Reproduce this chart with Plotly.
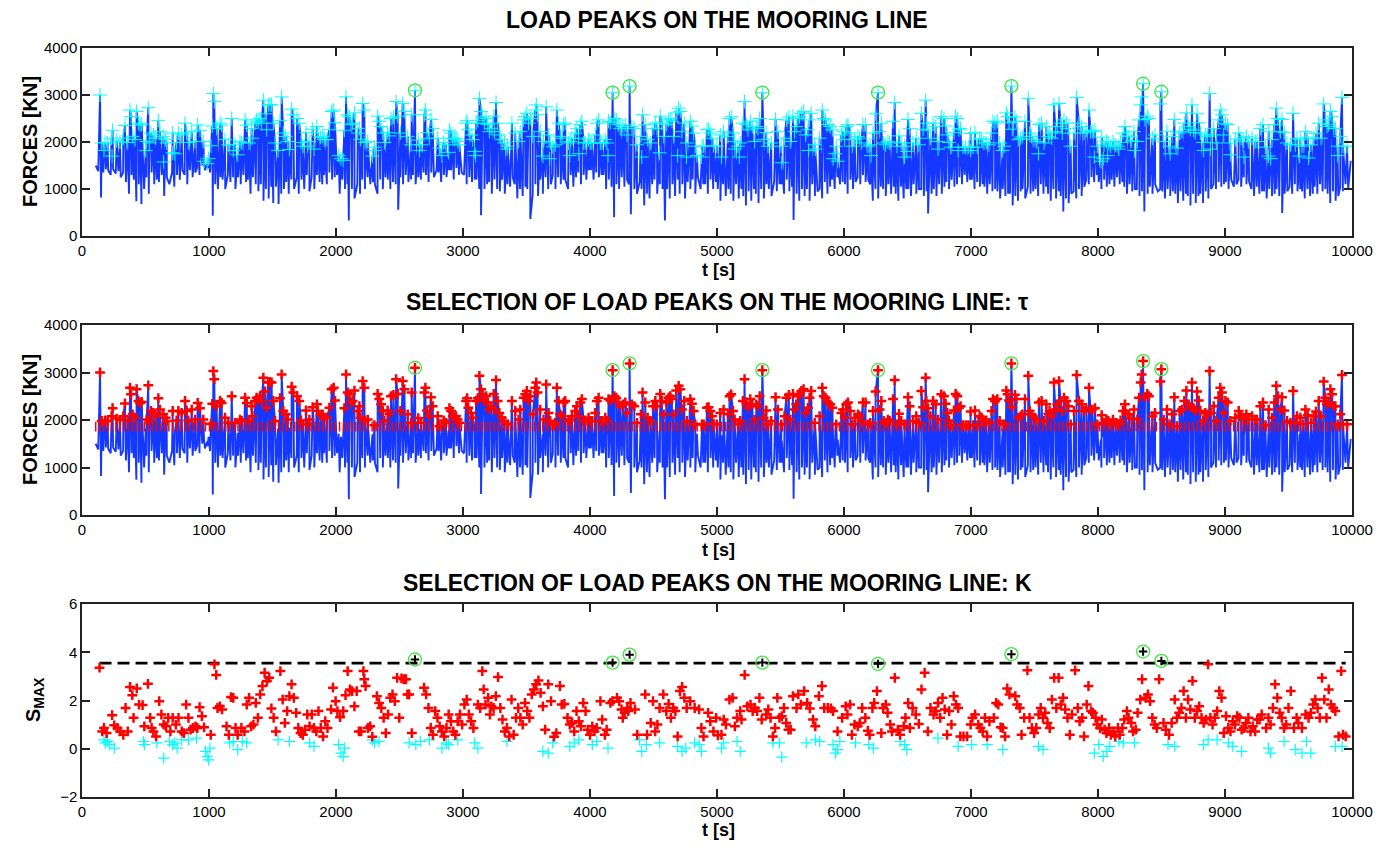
import numpy as np
import plotly.graph_objects as go

W, H = 1390, 847

# ---------------- data ----------------
TAU = 1860          # force threshold used for peak selection [kN]
S_LIM = 3.55        # S_max threshold

# extreme peaks (marked with circles in every panel)
ext_t = [2622, 4178, 4312, 5357, 6268, 7318, 8355, 8499]
ext_f = [3100, 3050, 3190, 3050, 3050, 3190, 3240, 3070]
ext_s = [3.70, 3.57, 3.90, 3.57, 3.52, 3.92, 4.03, 3.64]

# peaks above the threshold: time [s]
pk_t = [
    142, 155, 181, 202, 233, 241, 273, 299, 325, 338,
    360, 378, 386, 399, 417, 430, 444, 457, 470, 509,
    522, 530, 543, 562, 580, 601, 614, 640, 659, 667,
    714, 745, 759, 785, 811, 824, 837, 864, 890, 911,
    929, 955, 1016, 1026, 1034, 1042, 1060, 1087, 1100, 1126,
    1152, 1179, 1205, 1244, 1257, 1284, 1297, 1315, 1336, 1340,
    1362, 1375, 1388, 1402, 1415, 1428, 1441, 1454, 1467, 1480,
    1493, 1507, 1520, 1559, 1572, 1585, 1604, 1620, 1651, 1664,
    1693, 1711, 1724, 1738, 1764, 1777, 1790, 1816, 1850, 1856,
    1877, 1895, 1908, 1929, 1948, 1966, 1982, 1992, 2066, 2079,
    2092, 2105, 2118, 2131, 2145, 2171, 2184, 2192, 2210, 2223,
    2229, 2250, 2302, 2328, 2341, 2355, 2368, 2381, 2407, 2420,
    2433, 2452, 2473, 2486, 2507, 2525, 2538, 2565, 2591, 2596,
    2648, 2670, 2696, 2704, 2717, 2735, 2748, 2761, 2801, 2814,
    2848, 2866, 2893, 2906, 2919, 2932, 2945, 2958, 2971, 3024,
    3032, 3042, 3063, 3076, 3103, 3116, 3129, 3142, 3155, 3168,
    3181, 3195, 3208, 3221, 3242, 3247, 3260, 3273, 3286, 3305,
    3326, 3352,
    3385, 3411, 3438, 3451, 3477, 3490, 3503, 3516, 3530, 3550,
    3569, 3577, 3587, 3608, 3634, 3655, 3674, 3687, 3708, 3726,
    3739, 3753, 3766, 3779, 3792, 3805, 3831, 3845, 3858, 3884,
    3897, 3910, 3923, 3936, 3950, 3963, 3989, 4002, 4015, 4041,
    4054, 4068, 4081, 4094, 4120, 4133, 4146, 4160, 4191, 4207,
    4225, 4238, 4259, 4278, 4291, 4330, 4349, 4370, 4401, 4414,
    4435, 4454, 4475, 4496, 4514, 4527, 4553, 4566, 4580, 4601,
    4619, 4632, 4645, 4658, 4679, 4698, 4711, 4724, 4742, 4763,
    4790, 4803, 4816, 4829, 4882, 4895, 4921, 4934, 4947, 4960,
    4973, 4999, 5026, 5052,
    5086, 5099, 5112, 5126, 5139, 5165, 5183, 5204, 5217, 5231,
    5244, 5262, 5278, 5296, 5309, 5322, 5336, 5367, 5388, 5401,
    5427, 5461, 5480, 5506, 5532, 5546, 5566, 5577, 5598, 5611,
    5624, 5637, 5650, 5664, 5682, 5698, 5716, 5729, 5742, 5769,
    5808, 5829, 5840, 5855, 5874, 5892, 5908, 5939, 5979, 5992,
    6005, 6018, 6031, 6050, 6065, 6084, 6110, 6123, 6136, 6149,
    6170, 6189, 6207, 6228, 6249, 6281, 6294, 6312, 6328, 6346,
    6359, 6386, 6399, 6417, 6433, 6451, 6477, 6504, 6517, 6543,
    6569, 6590, 6609, 6622, 6643, 6648, 6661, 6680, 6701, 6722,
    6740, 6766,
    6787, 6800, 6813, 6826, 6840, 6866, 6879, 6892, 6905, 6918,
    6937, 6958, 6979, 6997, 7016, 7031, 7050, 7068, 7084, 7102,
    7120, 7141, 7162, 7173, 7189, 7207, 7226, 7260, 7278, 7288,
    7299, 7325, 7346, 7357, 7372, 7391, 7404, 7425, 7451, 7462,
    7477, 7496, 7514, 7535, 7556, 7575, 7593, 7609, 7619, 7635,
    7653, 7666, 7680, 7693, 7706, 7719, 7732, 7751, 7766, 7785,
    7811, 7832, 7850, 7871, 7890, 7908, 7929, 7942, 7955, 7976,
    7995, 8029, 8047, 8066, 8081, 8100, 8118, 8139, 8160, 8178,
    8197, 8212, 8223, 8244, 8265, 8283, 8310, 8323, 8336, 8344,
    8370, 8388, 8401, 8428, 8449,
    8491, 8517, 8543, 8564, 8583, 8601, 8622, 8643, 8661, 8680,
    8696, 8714, 8727, 8740, 8753, 8766, 8780, 8793, 8806, 8827,
    8845, 8863, 8879, 8890, 8911, 8932, 8950, 8963, 8976, 8990,
    9003, 9021, 9042, 9081, 9108, 9126, 9147, 9168, 9186, 9213,
    9239, 9252, 9278, 9299, 9318, 9344, 9370, 9389, 9404, 9417,
    9436, 9449, 9467, 9488, 9515, 9536, 9554, 9567, 9593, 9614,
    9633, 9651, 9677, 9698, 9717, 9738, 9756, 9777, 9790, 9803,
    9816, 9830, 9843, 9856, 9869, 9887, 9908, 9921, 9929, 9961,
]
# peaks above the threshold: force [kN]
pk_f = [
    3000, 1980, 1990, 1980, 2080, 2250, 2030, 2000, 2080, 2350,
    1990, 2680, 2540, 2120, 2050, 2650, 2400, 2360, 2380, 2010,
    2730, 1980, 2190, 2150, 2080, 2460, 2220, 2120, 2050, 1980,
    2190, 1990, 2190, 2150, 2400, 2190, 1990, 2220, 2010, 2360,
    2250, 2010, 1920, 2340, 3030, 2860, 2290, 2400, 2360, 2050,
    1940, 2500, 1940, 2010, 1980, 2470, 2360, 1980, 2290, 2080,
    2400, 2470, 2440, 2500, 2400, 2890, 2600, 2260, 2790, 2800,
    2790, 2400, 1980, 2460, 2960, 2190, 2120, 2010, 2700, 2580,
    2500, 2400, 1990, 1910, 2200, 1910, 2010, 2270, 2330, 2190,
    2100, 2120, 2050, 2050, 2260, 2650, 2680, 2410, 2250, 2960,
    2580, 2540, 2370, 2400, 2620, 2190, 2290, 2050, 2820, 2680,
    1990, 2010, 1890, 2550, 2440, 2330, 2190, 1990, 2200, 2130,
    2500, 2530, 2860, 2550, 2190, 2820, 2650, 2120, 1940, 2580,
    2040, 1940, 2580, 2680, 2200, 2080, 2480, 2290, 2080, 1870,
    1990, 1940, 2250, 2190, 2080, 2050, 2080, 2010, 1940, 2400,
    2460, 2260, 2150, 2050, 2400, 2460, 2930, 2650, 2540, 2400,
    2500, 2370, 2220, 2290, 2550, 2220, 2840, 2400, 2150, 2050,
    1980, 1910,
    2400, 2190, 2010, 2220, 2470, 2540, 2610, 2400, 2500, 2120,
    2680, 2790, 2580, 2220, 2010, 2750, 2150, 1980, 1900, 1940,
    2680, 2400, 2120, 2080, 2370, 2400, 1980, 2010, 2080, 2190,
    2290, 2080, 2370, 2440, 1980, 1990, 2050, 1980, 1980, 2150,
    2400, 2470, 1980, 1980, 2050, 1980, 2440, 2410, 2500, 2470,
    2370, 2290, 2330, 2370, 2150, 2330, 2290, 1940, 2120, 2580,
    2370, 2050, 1980, 2290, 2400, 2290, 2550, 2400, 2120, 2370,
    2470, 2500, 2440, 2120, 2620, 2720, 2650, 2220, 2400, 1980,
    2440, 2340, 2190, 1910, 1910, 1910, 2260, 2270, 2190, 2080,
    1920, 1910, 2150, 2220,
    2120, 2500, 2540, 2190, 2010, 1910, 1980, 2400, 2860, 2370,
    2260, 2440, 2330, 2010, 2330, 2290, 2500, 2050, 2200, 1910,
    1980, 2480, 2220, 1910, 2080, 2470, 2530, 2010, 2550, 2220,
    2330, 2500, 2540, 2610, 2650, 2150, 2260, 2470, 2610, 1940,
    2080, 2680, 2500, 2470, 2370, 2330, 2260, 1910, 2150, 2220,
    2050, 2330, 2370, 2190, 1910, 2050, 2120, 2080, 1980, 2370,
    2370, 1910, 1940, 2190, 2600, 2220, 2400, 1980, 1940, 2010,
    1980, 2440, 2840, 1910, 2130, 1980, 1910, 2480, 2290, 1980,
    2080, 1940, 2610, 2270, 2890, 2400, 2250, 2080, 2400, 2330,
    2010, 2540,
    2500, 2340, 2150, 1990, 1890, 2200, 2550, 2500, 2260, 2290,
    1890, 1890, 1890, 2180, 1890, 2200, 1890, 2080, 2050, 1980,
    1990, 1940, 2190, 2440, 2400, 2440, 1980, 1910, 2620, 2540,
    2410, 2270, 2530, 2440, 2050, 2080, 2120, 2440, 2930, 2190,
    2120, 2050, 2010, 2370, 2400, 1980, 2330, 2120, 2190, 2080,
    2790, 2220, 2330, 2820, 2400, 2190, 2470, 2400, 2290, 1910,
    2190, 2950, 2400, 2330, 2190, 2250, 2680, 2220, 2220, 2250,
    1910, 2100, 1940, 2010, 1980, 1910, 2010, 1940, 1910, 1990,
    2190, 2330, 2130, 2120, 2030, 2220, 2010, 2470, 2790, 2960,
    2480, 2550, 2500, 2080, 2150,
    2810, 2010, 2220, 1910, 2120, 2480, 1870, 2190, 2220, 2400,
    2620, 2330, 2270, 2790, 2250, 2200, 2600, 2410, 2190, 1990,
    2150, 2120, 3030, 2150, 2290, 1980, 2470, 2680, 2580, 2150,
    2400, 2370, 1980, 2050, 2190, 2080, 2010, 2120, 2010, 2080,
    2010, 2010, 2290, 2370, 1890, 2220, 2050, 2370, 2720, 2500,
    2220, 2480, 2200, 1980, 1940, 2610, 1940, 2080, 2050, 1910,
    2220, 2100, 1940, 2080, 2180, 2400, 2080, 2810, 2470, 2330,
    2370, 2650, 2540, 2290, 2290, 1910, 2120, 2950, 1910, 1910,
]

# peaks below the threshold
lpk_t = [
    173, 237, 502, 643, 714, 731, 961, 986, 997, 1191,
    1226, 1544, 1633, 1827, 2021, 2039, 2057, 2287, 2304, 2658,
    2834, 2887, 3092, 3099, 3347, 3629, 3682, 3841, 3912, 4142,
    4407, 4548, 4690, 4760, 4842, 4877, 5035, 5141, 5176, 5510,
    5721, 5774, 5914, 5932, 5950, 6213, 6477, 6494, 6740, 6899,
    6997, 7250, 7531, 7971, 8023, 8041, 8076, 8164, 8287, 8568,
    8832, 8885, 9043, 9149, 9342, 9360, 9588, 9658, 9887,
]
lpk_f = [
    1820, 1700, 1820, 1575, 1770, 1750, 1590, 1540, 1645, 1820,
    1730, 1820, 1840, 1850, 1710, 1645, 1610, 1700, 1820, 1820,
    1710, 1780, 1800, 1710, 1850, 1700, 1645, 1710, 1750, 1710,
    1680, 1770, 1710, 1680, 1710, 1680, 1680, 1850, 1680, 1560,
    1820, 1850, 1645, 1750, 1590, 1710, 1680, 1800, 1850, 1820,
    1820, 1820, 1750, 1680, 1590, 1645, 1710, 1850, 1820, 1750,
    1820, 1850, 1730, 1680, 1700, 1645, 1700, 1660, 1710,
]

# troughs of the force record
low_t = [
    108, 128, 150, 168, 188, 206, 226, 245, 266, 287,
    305, 324, 346, 370, 390, 408, 428, 447, 468, 489,
    507, 526, 548, 569, 590, 606, 628, 647, 668, 688,
    709, 727, 748, 770, 791, 808, 829, 850, 871, 892,
    906, 925, 947, 968, 988, 1008, 1030, 1049, 1070, 1090,
    1107, 1128, 1148, 1169, 1190, 1208, 1229, 1250, 1271, 1292,
    1306, 1327, 1346, 1368, 1389, 1408, 1429, 1448, 1470, 1490,
    1506, 1527, 1548, 1569, 1590, 1608, 1628, 1649, 1670, 1691,
    1707, 1728, 1750, 1770, 1791, 1808, 1829, 1850, 1871, 1892,
    1906, 1928, 1948, 1969, 1990, 2008, 2029, 2050, 2071, 2090,
    2101, 2125, 2146, 2168, 2189, 2207, 2228, 2249, 2270, 2291,
    2306, 2327, 2348, 2369, 2390, 2408, 2428, 2449, 2470, 2490,
    2507, 2528, 2549, 2570, 2591, 2606, 2627, 2648, 2669, 2690,
    2708, 2729, 2750, 2771, 2792, 2807, 2828, 2849, 2870, 2891,
    2906, 2927, 2948, 2969, 2990, 3008, 3029, 3050, 3071, 3092,
    3107, 3128, 3142, 3169, 3190, 3206, 3227, 3248, 3269, 3290,
    3308, 3329, 3350, 3371, 3392, 3407, 3428, 3449, 3470, 3491,
    3506, 3530, 3549, 3570, 3591, 3608, 3629, 3650, 3671, 3692,
    3707, 3728, 3749, 3770, 3791, 3806, 3827, 3848, 3869, 3890,
    3908, 3929, 3950, 3971, 3992, 4007, 4028, 4049, 4070, 4091,
    4106, 4127, 4148, 4170, 4190, 4208, 4229, 4250, 4271, 4292,
    4307, 4322, 4349, 4370, 4391, 4406, 4427, 4448, 4469, 4490,
    4508, 4529, 4550, 4571, 4590, 4607, 4628, 4649, 4670, 4691,
    4706, 4727, 4748, 4769, 4790, 4808, 4829, 4850, 4871, 4892,
    4907, 4928, 4949, 4970, 4991, 5006, 5027, 5048, 5069, 5090,
    5108, 5129, 5150, 5171, 5192, 5207, 5228, 5249, 5270, 5291,
    5306, 5327, 5348, 5369, 5390, 5408, 5429, 5450, 5471, 5492,
    5507, 5528, 5549, 5570, 5591, 5603, 5627, 5648, 5669, 5690,
    5708, 5729, 5750, 5771, 5792, 5807, 5828, 5849, 5870, 5891,
    5906, 5927, 5948, 5969, 5990, 6008, 6029, 6050, 6071, 6092,
    6107, 6128, 6149, 6170, 6191, 6206, 6227, 6248, 6269, 6290,
    6308, 6329, 6350, 6371, 6392, 6407, 6428, 6449, 6470, 6491,
    6506, 6527, 6548, 6569, 6590, 6608, 6629, 6650, 6662, 6690,
    6707, 6728, 6749, 6770, 6791, 6806, 6827, 6848, 6869, 6890,
    6908, 6929, 6950, 6971, 6992, 7007, 7028, 7049, 7070, 7091,
    7106, 7127, 7148, 7169, 7190, 7208, 7229, 7250, 7271, 7292,
    7307, 7328, 7349, 7370, 7391, 7406, 7427, 7448, 7469, 7490,
    7508, 7529, 7550, 7571, 7592, 7607, 7628, 7649, 7670, 7691,
    7706, 7727, 7748, 7769, 7790, 7808, 7829, 7850, 7871, 7892,
    7907, 7928, 7949, 7970, 7991, 8006, 8027, 8048, 8069, 8090,
    8108, 8129, 8150, 8171, 8192, 8207, 8228, 8249, 8270, 8291,
    8306, 8327, 8346, 8365, 8391, 8408, 8429, 8450, 8471, 8490,
    8506, 8527, 8548, 8569, 8590, 8608, 8629, 8650, 8671, 8692,
    8707, 8728, 8749, 8770, 8791, 8806, 8827, 8848, 8869, 8890,
    8908, 8929, 8950, 8971, 8992, 9007, 9028, 9049, 9070, 9091,
    9106, 9127, 9148, 9169, 9190, 9208, 9229, 9250, 9271, 9292,
    9307, 9328, 9349, 9370, 9391, 9406, 9427, 9450, 9470, 9491,
    9508, 9529, 9550, 9571, 9592, 9607, 9628, 9649, 9670, 9691,
    9706, 9727, 9748, 9769, 9790, 9808, 9829, 9850, 9871, 9892,
    9907, 9928, 9949, 9970, 9990,
]
low_f = [
    1500, 1380, 820, 1350, 1420, 1400, 1300, 1420, 1330, 1380,
    1250, 1350, 1150, 900, 1300, 1200, 740, 1100, 680, 1000,
    1250, 900, 1350, 1100, 1200, 1150, 1300, 850, 1250, 1100,
    1350, 1050, 1300, 1200, 1400, 1300, 1100, 1400, 1250, 1350,
    1450, 1300, 1500, 1400, 1450, 1350, 430, 1100, 1000, 1250,
    1200, 1000, 1300, 1150, 1250, 1000, 1250, 1100, 1300, 1150,
    1200, 900, 1250, 1100, 950, 1100, 750, 1000, 800, 1050,
    700, 1050, 680, 900, 1000, 1150, 900, 1200, 1000, 1250,
    900, 1200, 1000, 1300, 950, 1250, 1000, 1300, 1150, 1100,
    1300, 1100, 1350, 1200, 1250, 1300, 900, 1200, 1000, 1100,
    330, 1000, 800, 1100, 900, 1200, 1000, 1250, 1100, 1150,
    1100, 900, 1200, 1000, 1250, 1200, 1000, 1150, 1100, 560,
    1250, 1100, 1300, 1150, 1200, 1300, 1100, 1250, 1200, 1350,
    1300, 1150, 1350, 1250, 1400, 1350, 1150, 1300, 1250, 1400,
    1400, 1200, 1450, 1300, 1350, 1300, 1100, 1250, 1150, 1200,
    1200, 1000, 440, 1000, 1100, 1150, 900, 1200, 1000, 950,
    1200, 900, 1100, 1050, 1250, 1100, 800, 1000, 850, 1050,
    1000, 360, 900, 1100, 850, 1200, 900, 1250, 1000, 1100,
    1300, 1000, 1250, 1100, 1200, 1200, 1000, 1300, 1050, 1250,
    1350, 1100, 1300, 1200, 1400, 1400, 1200, 1350, 1250, 1300,
    1300, 1000, 1200, 1050, 400, 1100, 1000, 1250, 1050, 1200,
    1100, 465, 1000, 900, 1150, 1000, 650, 900, 800, 1100,
    1200, 900, 1100, 1000, 330, 1000, 800, 1100, 850, 1200,
    900, 1100, 800, 1150, 1000, 1200, 900, 1250, 1000, 1100,
    1100, 900, 1200, 1000, 1150, 1000, 750, 1100, 850, 1000,
    900, 750, 1100, 800, 1000, 850, 650, 950, 750, 1000,
    900, 700, 1000, 800, 1100, 1000, 850, 1150, 950, 1100,
    1100, 900, 1200, 950, 1050, 340, 900, 750, 1000, 850,
    1000, 750, 1100, 850, 950, 1000, 800, 1150, 900, 1050,
    1200, 1000, 1250, 1100, 1150, 1100, 900, 1200, 1000, 1150,
    1250, 1100, 1300, 1150, 1200, 1100, 750, 1000, 800, 1050,
    1000, 850, 1100, 900, 1050, 900, 750, 1050, 800, 1000,
    1000, 850, 1100, 900, 1000, 1000, 850, 950, 480, 900,
    1000, 850, 1100, 900, 1050, 1150, 1000, 1200, 1050, 1100,
    1250, 1100, 1300, 1150, 1200, 1200, 1000, 1150, 1050, 1100,
    1050, 900, 1100, 950, 1000, 950, 800, 1000, 850, 900,
    900, 650, 850, 750, 950, 1000, 800, 1050, 900, 950,
    1000, 850, 1100, 900, 1050, 900, 750, 1000, 800, 950,
    850, 520, 800, 700, 900, 950, 800, 1000, 850, 1050,
    1200, 1100, 1250, 1150, 1300, 1150, 1000, 1200, 1050, 1100,
    1200, 1050, 1250, 1100, 1150, 1050, 900, 1100, 950, 1000,
    1000, 850, 950, 520, 900, 1050, 900, 1100, 950, 1000,
    950, 800, 1000, 850, 950, 900, 700, 950, 750, 900,
    850, 650, 900, 700, 850, 900, 700, 950, 800, 1000,
    1100, 1000, 1150, 1050, 1100, 1150, 1000, 1200, 1050, 1100,
    1200, 1050, 1250, 1100, 1150, 1000, 850, 1050, 900, 950,
    950, 800, 1000, 850, 900, 1000, 850, 490, 900, 950,
    1050, 900, 1100, 950, 1000, 950, 800, 1000, 850, 900,
    1050, 900, 1100, 950, 1000, 900, 700, 950, 750, 850,
    1050, 950, 1100, 1000, 1600,
]

# S_max of the selected peaks (above threshold)
k_t = [
    138, 159, 173, 194, 237, 254, 279, 300, 325, 343,
    360, 378, 396, 406, 431, 449, 477, 491, 519, 537,
    548, 562, 583, 608, 625, 643, 661, 679, 696, 714,
    739, 760, 785, 802, 820, 838, 855, 873, 894, 908,
    926, 944, 961, 1014, 1043, 1057, 1067, 1085, 1103, 1138,
    1156, 1173, 1191, 1209, 1226, 1255, 1279, 1297, 1315, 1332,
    1350, 1368, 1385, 1403, 1421, 1438, 1456, 1474, 1491, 1509,
    1527, 1562, 1580, 1597, 1615, 1633, 1650, 1668, 1686, 1703,
    1721, 1739, 1756, 1774, 1792, 1809, 1827, 1845, 1862, 1880,
    1898, 1915, 1933, 1961, 1976, 1997, 2011, 2032, 2057, 2075,
    2092, 2110, 2127, 2145, 2163, 2180, 2198, 2216, 2223, 2233,
    2251, 2269, 2286, 2322, 2339, 2357, 2375, 2392, 2410, 2427,
    2445, 2463, 2481, 2498, 2516, 2534, 2551, 2562, 2576, 2597,
    2693, 2710, 2728, 2746, 2763, 2781, 2799, 2816, 2834, 2852,
    2870, 2887, 2905, 2923, 2940, 2958, 2976, 2993, 3011, 3029,
    3046, 3064, 3082, 3117, 3135, 3152, 3163, 3177, 3198, 3212,
    3223, 3241, 3258, 3276, 3294, 3311, 3329, 3346, 3364, 3382,
    3399, 3417, 3435, 3452, 3470, 3488, 3506, 3523, 3541, 3558,
    3576, 3594, 3611, 3629, 3647, 3671, 3693, 3717, 3735, 3763,
    3777, 3798, 3823, 3841, 3859, 3876, 3894, 3912, 3929, 3947,
    3965, 3982, 4000, 4018, 4035, 4053, 4082, 4096, 4117, 4131,
    4160, 4177, 4213, 4230, 4248, 4258, 4273, 4294, 4301, 4319,
    4354, 4372, 4435, 4449, 4478, 4496, 4513, 4531, 4548, 4577,
    4601, 4619, 4637, 4655, 4672, 4690, 4708, 4725, 4743, 4761,
    4789, 4824, 4859, 4877, 4894, 4930, 4947, 4972, 4993, 5007,
    5035, 5053, 5070, 5098, 5123, 5141, 5158, 5183, 5193, 5218,
    5239, 5264, 5281, 5299, 5316, 5334, 5352, 5387, 5404, 5422,
    5440, 5457, 5475, 5492, 5510, 5527, 5545, 5563, 5580, 5598,
    5626, 5640, 5661, 5686, 5710, 5731, 5756, 5774, 5802, 5826,
    5844, 5872, 5897, 5914, 5949, 5985, 6013, 6027, 6048, 6062,
    6083, 6108, 6125, 6143, 6168, 6188, 6202, 6224, 6238, 6259,
    6294, 6308, 6329, 6343, 6364, 6378, 6400, 6424, 6442, 6470,
    6484, 6505, 6519, 6540, 6565, 6589, 6610, 6635, 6660, 6681,
    6705, 6723, 6740, 6758, 6776, 6793, 6811, 6828, 6846, 6864,
    6881, 6899, 6916, 6941, 6969, 6997, 7011, 7032, 7057, 7074,
    7092, 7110, 7127, 7145, 7180, 7198, 7215, 7233, 7250, 7268,
    7285, 7303, 7349, 7363, 7384, 7398, 7419, 7444, 7461, 7479,
    7497, 7514, 7532, 7549, 7567, 7584, 7602, 7620, 7637, 7655,
    7672, 7690, 7707, 7725, 7742, 7760, 7778, 7795, 7820, 7841,
    7855, 7876, 7890, 7911, 7925, 7946, 7960, 7981, 7995, 8016,
    8030, 8052, 8066, 8087, 8101, 8122, 8136, 8157, 8171, 8192,
    8206, 8227, 8241, 8262, 8276, 8297, 8312, 8333, 8347, 8375,
    8393, 8410, 8428, 8446, 8463, 8481, 8516, 8534, 8559, 8580,
    8604, 8621, 8639, 8657, 8674, 8692, 8709, 8727, 8744, 8762,
    8780, 8797, 8815, 8832, 8850, 8867, 8885, 8902, 8920, 8938,
    8955, 8973, 8990, 9008, 9026, 9043, 9061, 9078, 9096, 9114,
    9131, 9149, 9166, 9184, 9201, 9219, 9237, 9254, 9272, 9289,
    9324, 9342, 9359, 9377, 9394, 9412, 9430, 9447, 9465, 9482,
    9500, 9518, 9543, 9564, 9578, 9606, 9634, 9658, 9676, 9694,
    9711, 9729, 9746, 9764, 9782, 9799, 9817, 9834, 9852, 9869,
    9894, 9915, 9929, 9950,
]
k_s = [
    3.36, 0.72, 0.86, 0.65, 1.39, 0.97, 0.86, 0.72, 0.58, 1.69,
    0.72, 2.56, 2.22, 1.28, 2.50, 1.83, 1.81, 0.93, 2.69, 1.28,
    0.86, 0.72, 0.51, 1.97, 1.42, 1.00, 0.93, 1.28, 0.72, 1.28,
    1.00, 1.28, 0.72, 0.65, 1.83, 1.28, 0.79, 0.86, 0.93, 0.86,
    1.72, 1.35, 0.89, 0.58, 3.50, 3.06, 1.69, 1.76, 1.63, 0.93,
    0.58, 2.14, 2.11, 0.86, 0.58, 0.86, 0.72, 1.83, 2.11, 0.93,
    1.00, 1.90, 1.28, 2.25, 2.60, 3.15, 2.81, 2.94, 1.67, 1.28,
    0.72, 3.22, 2.04, 1.07, 1.56, 2.18, 2.67, 2.11, 1.49, 0.86,
    0.65, 0.58, 0.79, 1.42, 0.93, 1.42, 0.86, 0.72, 1.56, 0.86,
    0.51, 1.14, 0.86, 1.63, 2.53, 1.97, 1.56, 1.31, 1.56, 2.22,
    3.22, 2.46, 2.39, 1.76, 2.39, 0.72, 0.72, 3.22, 2.88, 2.60,
    0.86, 0.93, 0.50, 2.18, 1.90, 1.69, 1.28, 0.65, 1.42, 2.11,
    2.25, 1.97, 2.94, 1.28, 2.92, 2.88, 2.88, 2.25, 2.25, 0.65,
    2.53, 2.25, 1.69, 0.86, 0.58, 1.56, 1.28, 0.93, 0.72, 0.51,
    0.86, 1.42, 1.14, 0.72, 0.58, 1.14, 1.42, 1.00, 1.83, 2.04,
    1.42, 1.14, 0.86, 1.83, 1.69, 3.22, 2.46, 1.83, 2.11, 1.42,
    1.76, 1.69, 2.18, 2.97, 1.69, 1.21, 0.72, 0.86, 0.51, 2.04,
    0.58, 1.28, 1.69, 1.28, 1.00, 1.90, 1.56, 1.28, 2.25, 2.46,
    2.67, 2.83, 2.32, 1.76, 0.79, 2.67, 1.97, 0.50, 0.65, 2.60,
    1.83, 1.86, 1.28, 1.00, 1.07, 0.72, 1.56, 1.14, 0.93, 1.90,
    1.56, 0.79, 0.58, 0.93, 0.72, 0.86, 1.97, 1.21, 0.58, 0.79,
    1.90, 1.97, 2.11, 1.97, 1.63, 1.28, 1.49, 1.69, 1.56, 1.90,
    1.63, 0.58, 2.25, 0.58, 1.07, 1.97, 0.72, 1.00, 1.69, 2.25,
    1.56, 1.86, 1.28, 1.69, 1.56, 0.51, 2.39, 2.56, 2.11, 1.69,
    1.97, 1.69, 1.63, 0.86, 0.51, 1.49, 1.14, 0.72, 1.28, 0.56,
    0.58, 1.21, 1.00, 2.04, 2.11, 0.93, 1.28, 1.56, 1.21, 3.06,
    1.76, 1.83, 1.56, 1.69, 1.56, 2.11, 1.21, 1.42, 1.63, 1.28,
    0.51, 0.86, 2.11, 1.28, 1.35, 1.69, 1.07, 0.79, 0.79, 2.18,
    1.69, 2.25, 1.83, 2.39, 1.90, 1.67, 1.21, 0.93, 2.18, 2.60,
    1.69, 1.69, 1.67, 1.56, 0.72, 1.28, 1.76, 1.42, 1.83, 0.58,
    1.00, 0.93, 1.07, 1.69, 1.28, 0.75, 0.58, 1.69, 1.90, 2.39,
    0.65, 1.69, 1.83, 1.49, 1.00, 0.72, 2.94, 0.79, 0.58, 0.93,
    1.28, 1.90, 0.86, 1.69, 1.42, 1.03, 2.46, 3.15, 0.72, 1.69,
    1.42, 1.56, 1.90, 1.28, 2.11, 1.63, 0.58, 1.56, 1.00, 2.18,
    1.83, 1.69, 0.51, 0.51, 0.51, 1.00, 1.28, 1.42, 1.00, 0.86,
    0.72, 1.28, 0.51, 1.14, 1.28, 1.90, 1.83, 0.89, 0.86, 0.51,
    2.50, 2.25, 2.18, 1.83, 1.69, 0.58, 1.28, 3.25, 1.28, 0.86,
    0.65, 0.86, 1.42, 1.69, 1.28, 1.49, 1.07, 0.86, 2.04, 2.94,
    1.69, 2.94, 1.83, 2.11, 1.63, 1.28, 0.58, 1.42, 3.25, 1.69,
    1.14, 1.28, 0.51, 1.83, 2.60, 1.56, 1.49, 1.28, 1.00, 0.86,
    1.21, 0.79, 0.65, 0.86, 0.58, 0.72, 0.51, 0.86, 0.58, 0.86,
    1.21, 1.56, 1.28, 1.07, 0.72, 0.79, 1.49, 2.04, 2.88, 2.11,
    2.25, 1.97, 1.28, 1.00, 0.86, 2.88, 1.07, 0.79, 0.58, 1.07,
    2.04, 1.28, 1.49, 1.69, 2.39, 1.28, 2.04, 1.63, 2.81, 1.28,
    1.56, 1.76, 1.28, 1.07, 1.21, 3.50, 1.28, 1.00, 1.28, 1.56,
    2.39, 2.11, 0.65, 1.35, 0.86, 0.72, 1.14, 1.00, 1.35, 1.28,
    0.79, 0.86, 1.07, 1.28, 0.72, 0.93, 0.72, 1.21, 1.21, 1.42,
    0.86, 1.28, 1.00, 1.69, 2.67, 2.11, 1.49, 1.28, 0.86, 1.00,
    1.69, 2.39, 0.86, 1.28, 1.07, 0.86, 1.42, 1.28, 1.49, 1.83,
    2.04, 1.69, 1.28, 2.94, 2.04, 1.28, 2.46, 1.83, 1.69, 1.56,
    0.51, 3.22, 0.58, 0.51,
]

# S_max of the peaks below threshold
c_t = [
    173, 184, 201, 219, 254, 484, 491, 590, 643, 689,
    714, 731, 749, 785, 838, 901, 972, 986, 997, 1007,
    1163, 1191, 1226, 1262, 1297, 1544, 1633, 1792, 1827, 2021,
    2039, 2057, 2067, 2286, 2304, 2339, 2576, 2629, 2664, 2735,
    2834, 2870, 2887, 2958, 3092, 3117, 3346, 3629, 3671, 3706,
    3841, 3876, 3912, 4018, 4053, 4142, 4390, 4407, 4443, 4548,
    4690, 4725, 4754, 4824, 4859, 4877, 5035, 5053, 5158, 5183,
    5440, 5492, 5510, 5703, 5774, 5809, 5914, 5932, 5949, 5967,
    6090, 6195, 6231, 6442, 6477, 6494, 6740, 6899, 7005, 7127,
    7250, 7532, 7567, 7971, 8006, 8041, 8069, 8093, 8164, 8199,
    8287, 8551, 8604, 8832, 8867, 8938, 9026, 9061, 9131, 9342,
    9359, 9465, 9553, 9606, 9641, 9676, 9869, 9922,
]
c_s = [
    0.37, 0.24, 0.30, 0.17, 0.03, 0.30, 0.17, 0.24, -0.39, 0.30,
    0.17, 0.24, 0.03, 0.37, 0.37, 0.44, -0.11, -0.32, -0.46, 0.03,
    0.24, 0.30, -0.04, 0.30, 0.24, 0.37, 0.30, 0.24, 0.10, 0.17,
    -0.18, -0.32, 0.03, 0.37, 0.24, 0.30, 0.24, 0.17, 0.30, 0.37,
    0.03, 0.24, 0.17, 0.37, 0.24, 0.03, 0.30, -0.11, -0.18, 0.24,
    0.10, 0.24, 0.37, 0.17, 0.30, 0.03, 0.37, -0.11, 0.17, 0.24,
    0.10, -0.11, 0.03, 0.24, 0.17, -0.11, 0.03, 0.24, 0.30, -0.11,
    0.24, 0.24, -0.35, 0.24, 0.37, 0.30, 0.17, -0.18, -0.04, 0.30,
    0.24, 0.17, 0.03, 0.30, 0.17, -0.04, 0.44, 0.10, 0.17, 0.17,
    -0.04, 0.10, -0.04, -0.18, 0.17, -0.32, -0.11, 0.10, 0.30, 0.24,
    0.24, 0.17, 0.10, 0.17, 0.37, 0.37, 0.24, 0.10, -0.11, 0.03,
    -0.18, 0.30, -0.04, -0.18, 0.30, -0.18, 0.10, 0.10,
]

x_ticks = [0, 1000, 2000, 3000, 4000, 5000, 6000, 7000, 8000, 9000, 10000]
x_ticktext = ["0", "1000", "2000", "3000", "4000", "5000",
              "6000", "7000", "8000", "9000", "10000"]

# ---------------- assemble the force record ----------------
all_pk_t = np.array(pk_t + ext_t + lpk_t, dtype=float)
all_pk_f = np.array(pk_f + ext_f + lpk_f, dtype=float)
sig_t = np.concatenate([all_pk_t, np.array(low_t, dtype=float)])
sig_f = np.concatenate([all_pk_f, np.array(low_f, dtype=float)])
order = np.argsort(sig_t, kind="stable")
sig_t, sig_f = sig_t[order], sig_f[order]

sel = all_pk_f > TAU
sel_t, sel_f = all_pk_t[sel], all_pk_f[sel]

# threshold drawn as a row of short red ticks
tau_x = np.arange(sig_t[0], sig_t[-1], 32.0)
tau_y = np.full(tau_x.shape, TAU, dtype=float)

# ---------------- styling ----------------
BLUE = "#1438ff"
CYAN = "#00ffff"
RED = "#ff0000"
GREEN = "#3fe83f"
FONT = "Liberation Sans, Arial, sans-serif"


def px(x):
    """pixel column -> paper fraction"""
    return x / W


def py(y):
    """pixel row -> paper fraction"""
    return 1 - y / H


X0, X1 = 82, 1352
panels = [(48, 236), (325, 515), (604, 797)]

fig = go.Figure()

# panel 1: all peaks
fig.add_trace(go.Scatter(x=sig_t, y=sig_f, mode="lines", line=dict(color=BLUE, width=1.9),
                         xaxis="x", yaxis="y", hoverinfo="skip"))
fig.add_trace(go.Scatter(x=all_pk_t, y=all_pk_f, mode="markers",
                         marker=dict(symbol="cross-thin", size=10, line=dict(color=CYAN, width=1)),
                         xaxis="x", yaxis="y"))
fig.add_trace(go.Scatter(x=ext_t, y=ext_f, mode="markers",
                         marker=dict(symbol="circle-open", size=13, color=GREEN, line=dict(width=1.3)),
                         xaxis="x", yaxis="y"))

# panel 2: peaks above tau
fig.add_trace(go.Scatter(x=sig_t, y=sig_f, mode="lines", line=dict(color=BLUE, width=1.9),
                         xaxis="x2", yaxis="y2", hoverinfo="skip"))
fig.add_trace(go.Scatter(x=tau_x, y=tau_y, mode="markers",
                         marker=dict(symbol="line-ns", size=7, line=dict(color=RED, width=1.5)),
                         xaxis="x2", yaxis="y2"))
fig.add_trace(go.Scatter(x=sel_t, y=sel_f, mode="markers",
                         marker=dict(symbol="cross-thin", size=7, line=dict(color=RED, width=2.5)),
                         xaxis="x2", yaxis="y2"))
fig.add_trace(go.Scatter(x=ext_t, y=ext_f, mode="markers",
                         marker=dict(symbol="circle-open", size=13, color=GREEN, line=dict(width=1.3)),
                         xaxis="x2", yaxis="y2"))

# panel 3: S_max of each peak
fig.add_trace(go.Scatter(x=[min(k_t), max(k_t)], y=[S_LIM, S_LIM], mode="lines",
                         line=dict(color="black", width=2.6, dash="12px,6px"),
                         xaxis="x3", yaxis="y3"))
fig.add_trace(go.Scatter(x=c_t, y=c_s, mode="markers",
                         marker=dict(symbol="cross-thin", size=8, line=dict(color=CYAN, width=1.2)),
                         xaxis="x3", yaxis="y3"))
fig.add_trace(go.Scatter(x=k_t, y=k_s, mode="markers",
                         marker=dict(symbol="cross-thin", size=7, line=dict(color=RED, width=2.5)),
                         xaxis="x3", yaxis="y3"))
fig.add_trace(go.Scatter(x=ext_t, y=ext_s, mode="markers",
                         marker=dict(symbol="circle-open", size=13, color=GREEN, line=dict(width=1.3)),
                         xaxis="x3", yaxis="y3"))
fig.add_trace(go.Scatter(x=ext_t, y=ext_s, mode="markers",
                         marker=dict(symbol="cross-thin", size=6, line=dict(color="black", width=2)),
                         xaxis="x3", yaxis="y3"))

axis_common = dict(showline=True, linecolor="#222", linewidth=1.5, mirror="ticks",
                   ticks="inside", ticklen=8, tickcolor="#222", tickwidth=1.5,
                   showgrid=False, zeroline=False, automargin=False,
                   tickfont=dict(family=FONT, size=15, color="black"))

layout = dict(width=W, height=H, margin=dict(l=0, r=0, t=0, b=0, pad=0),
              paper_bgcolor="white", plot_bgcolor="white", showlegend=False)
for i, (top, bot) in enumerate(panels):
    sx = "" if i == 0 else str(i + 1)
    layout["xaxis" + sx] = dict(axis_common, domain=[px(X0), px(X1)], range=[0, 10000],
                                tickvals=x_ticks, ticktext=x_ticktext, anchor="y" + sx)
    if i < 2:
        yax = dict(axis_common, range=[0, 4000], tickvals=[0, 1000, 2000, 3000, 4000])
    else:
        yax = dict(axis_common, range=[-2, 6], tickvals=[-2, 0, 2, 4, 6])
    layout["yaxis" + sx] = dict(yax, domain=[py(bot), py(top)], anchor="x" + sx)

fig.update_layout(**layout)


def label(x, y, text, size, angle=0):
    fig.add_annotation(x=px(x), y=py(y), xref="paper", yref="paper", showarrow=False,
                       xanchor="center", yanchor="middle", textangle=angle,
                       text=text, font=dict(family=FONT, size=size, color="black"))


titles = ["LOAD PEAKS ON THE MOORING LINE",
          "SELECTION OF LOAD PEAKS ON THE MOORING LINE: \u03c4",
          "SELECTION OF LOAD PEAKS ON THE MOORING LINE: K"]
title_y = [20, 302, 583]
xlab_y = [270, 550, 830]
for t, ty, xy in zip(titles, title_y, xlab_y):
    label(717, ty, "<b>%s</b>" % t, 23)
    label(718, xy, "<b>t [s]</b>", 18)

for top, bot in panels[:2]:
    label(30, (top + bot) / 2, "<b>FORCES [KN]</b>", 20, -90)
label(34, 700, "<b>S<sub>MAX</sub></b>", 20, -90)

fig.write_html("out.html")
